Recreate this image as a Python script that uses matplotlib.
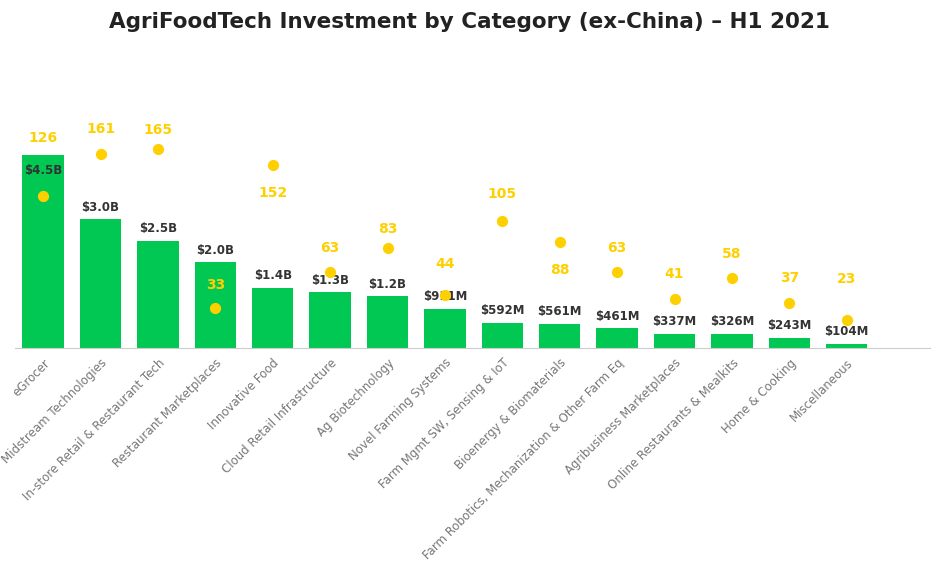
import matplotlib.pyplot as plt
import numpy as np

categories = ["eGrocer", "Midstream Technologies", "In-store Retail & Restaurant Tech",
              "Restaurant Marketplaces", "Innovative Food", "Cloud Retail Infrastructure",
              "Ag Biotechnology", "Novel Farming Systems", "Farm Mgmt SW, Sensing & IoT",
              "Bioenergy & Biomaterials", "Farm Robotics, Mechanization & Other Farm Eq",
              "Agribusiness Marketplaces", "Online Restaurants & Mealkits",
              "Home & Cooking", "Miscellaneous"]
funding_b = [4.5, 3.0, 2.5, 2.0, 1.4, 1.3, 1.2, 0.911, 0.592, 0.561, 0.461, 0.337, 0.326, 0.243, 0.104]
funding_labels = ["$4.5B", "$3.0B", "$2.5B", "$2.0B", "$1.4B", "$1.3B", "$1.2B", "$911M",
                  "$592M", "$561M", "$461M", "$337M", "$326M", "$243M", "$104M"]
deals = [126, 161, 165, 33, 152, 63, 83, 44, 105, 88, 63, 41, 58, 37, 23]

# label offsets in points (style only)
deal_offsets = [42, 18, 14, 17, -20, 17, 14, 22, 20, -20, 17, 18, 17, 18, 30]
bar_offsets = [-16, 4, 4, 4, 4, 4, 4, 4, 4, 4, 4, 4, 4, 4, 4]

green = "#00C853"
yellow = "#FFD000"

fig = plt.figure(figsize=(9.39, 5.62), dpi=100)
ax = fig.add_axes([15/939, 214/562, 915/939, 288/562])
x = np.arange(len(categories))
ax.bar(x, funding_b, width=0.72, color=green, zorder=2)
for xi, v, lab, off in zip(x, funding_b, funding_labels, bar_offsets):
    ax.annotate(lab, (xi, v), xytext=(0, off), textcoords="offset points",
                ha="center", va="bottom", fontsize=8.5, fontweight="bold", color="#333333", zorder=5)
ax.set_xlim(-0.49, 15.45)
ax.set_ylim(0, 6.71)
ax.set_yticks([])
for s in ["top", "right", "left"]:
    ax.spines[s].set_visible(False)
ax.spines["bottom"].set_color("#cccccc")
ax.set_xticks(x)
ax.set_xticklabels(categories, rotation=45, ha="right", rotation_mode="anchor",
                   fontsize=8.5, color="#777777")
ax.tick_params(axis="x", length=0, pad=6)

ax2 = ax.twinx()
ax2.set_ylim(0, 239)
ax2.scatter(x, deals, s=50, color=yellow, zorder=4)
for xi, d, off in zip(x, deals, deal_offsets):
    ax2.annotate(str(d), (xi, d), xytext=(0, off), textcoords="offset points",
                 ha="center", va="center", fontsize=10, fontweight="bold", color=yellow)
ax2.set_yticks([])
for s in ax2.spines.values():
    s.set_visible(False)

fig.text(0.5, 1 - 22/562, "AgriFoodTech Investment by Category (ex-China) – H1 2021",
         ha="center", va="center", fontsize=15.5, fontweight="bold", color="#222222")
fig.savefig("out.png", dpi=100)
